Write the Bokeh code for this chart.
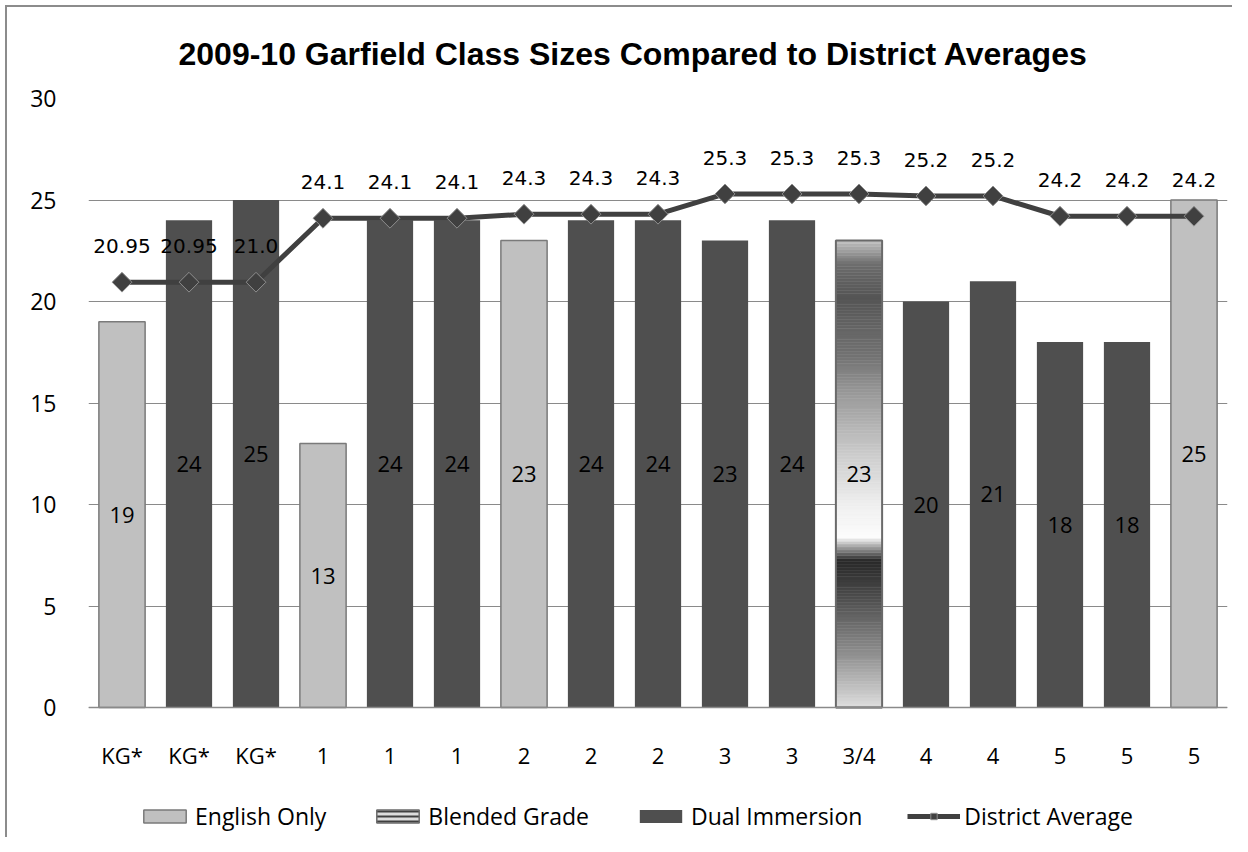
import numpy as np
from bokeh.plotting import figure
from bokeh.models import (ColumnDataSource, FixedTicker, Legend, LegendItem, Range1d)
from bokeh.core.properties import value
from bokeh.embed import file_html
from bokeh.resources import INLINE

# ---------------- data ----------------
categories = ["KG*", "KG*", "KG*", "1", "1", "1", "2", "2", "2", "3", "3", "3/4",
              "4", "4", "5", "5", "5"]
class_sizes = [19, 24, 25, 13, 24, 24, 23, 24, 24, 23, 24, 23, 20, 21, 18, 18, 25]
program = ["English Only", "Dual Immersion", "Dual Immersion", "English Only",
           "Dual Immersion", "Dual Immersion", "English Only", "Dual Immersion",
           "Dual Immersion", "Dual Immersion", "Dual Immersion", "Blended Grade",
           "Dual Immersion", "Dual Immersion", "Dual Immersion", "Dual Immersion",
           "English Only"]
district_avg = [20.95, 20.95, 20.95, 24.1, 24.1, 24.1, 24.3, 24.3, 24.3,
                25.3, 25.3, 25.3, 25.2, 25.2, 24.2, 24.2, 24.2]
district_avg_labels = ["20.95", "20.95", "21.0", "24.1", "24.1", "24.1", "24.3", "24.3",
                       "24.3", "25.3", "25.3", "25.3", "25.2", "25.2", "24.2", "24.2", "24.2"]
y_ticks = [0, 5, 10, 15, 20, 25, 30]
y_max = 30

# ---------------- styles / layout ----------------
COL_ENG = "#c0c0c0"
COL_DUAL = "#4f4f4f"
COL_LINE = "#404040"
GRID = "#8a8a8a"
BAR_W = 0.69
FONT = "Open Sans"
PLOT_W = 1139          # px of the value area
PLOT_H = 609           # px from 0 to 30
EXTRA_H = 128          # px below the zero line (axis labels + legend)
# gradient stops for the blended bar (fraction from top, grey level)
grad_t = [0.0, 0.05, 0.12, 0.25, 0.32, 0.46, 0.57, 0.635, 0.685, 0.75, 0.88, 1.0]
grad_v = [195, 110, 85, 115, 150, 205, 240, 252, 40, 70, 140, 222]

xs = list(range(1, len(categories) + 1))
y_start = -EXTRA_H * y_max / PLOT_H

p = figure(output_backend="svg", toolbar_location=None,
           frame_width=PLOT_W, frame_height=PLOT_H + EXTRA_H,
           x_range=Range1d(0.5, len(categories) + 0.5), y_range=Range1d(y_start, y_max),
           min_border_left=81, min_border_right=5, min_border_top=90,
           min_border_bottom=2)
p.styles = {"border-left": "2px solid #8c8c8c", "border-top": "2px solid #8c8c8c",
            "margin-left": "5px", "margin-top": "5px"}
p.background_fill_color = "white"
p.border_fill_color = "white"
p.outline_line_color = None

p.title.text = "2009-10 Garfield Class Sizes Compared to District Averages"
p.title.align = "left"
p.title.offset = 90
p.title.text_font = "Liberation Sans"
p.title.text_font_size = "32px"
p.title.text_font_style = "bold"
p.title.text_color = "#000000"
p.title.standoff = 53

# axes
p.yaxis.ticker = FixedTicker(ticks=y_ticks)
p.yaxis.axis_line_color = None
p.yaxis.major_tick_line_color = None
p.yaxis.minor_tick_line_color = None
p.yaxis.major_label_text_font = FONT
p.yaxis.major_label_text_font_size = "23px"
p.yaxis.major_label_text_color = "#000000"
p.yaxis.major_label_standoff = 26

p.xaxis.fixed_location = 0
p.xaxis.ticker = FixedTicker(ticks=xs)
p.xaxis.major_label_overrides = {x: c for x, c in zip(xs, categories)}
p.xaxis.axis_line_color = GRID
p.xaxis.axis_line_width = 1.5
p.xaxis.major_tick_line_color = None
p.xaxis.minor_tick_line_color = None
p.xaxis.major_label_text_font = FONT
p.xaxis.major_label_text_font_size = "22px"
p.xaxis.major_label_text_color = "#000000"
p.xaxis.major_label_standoff = 26

p.xgrid.grid_line_color = None
p.ygrid.grid_line_color = GRID
p.ygrid.grid_line_width = 1.2

# ---------------- bars ----------------
def subset(name):
    idx = [i for i, g in enumerate(program) if g == name]
    return ColumnDataSource(dict(x=[xs[i] for i in idx], top=[class_sizes[i] for i in idx]))

src_eng = subset("English Only")
src_dual = subset("Dual Immersion")
src_blend = subset("Blended Grade")

r_eng = p.vbar(x="x", top="top", bottom=0, width=BAR_W, source=src_eng,
               fill_color=COL_ENG, line_color="#7a7a7a", line_width=1.5)
r_dual = p.vbar(x="x", top="top", bottom=0, width=BAR_W, source=src_dual,
                fill_color=COL_DUAL, line_color=None)

# blended bar: vertical gradient made of thin slices
n = 160
seg = dict(x=[], bottom=[], top=[], color=[])
for bx, bt in zip(src_blend.data["x"], src_blend.data["top"]):
    for i in range(n):
        b = bt * i / n
        t = bt * (i + 1) / n
        frac_from_top = 1 - (i + 0.5) / n
        g = int(round(np.interp(frac_from_top, grad_t, grad_v)))
        seg["x"].append(bx)
        seg["bottom"].append(b)
        seg["top"].append(t)
        seg["color"].append("#%02x%02x%02x" % (g, g, g))
p.vbar(x="x", top="top", bottom="bottom", width=BAR_W, source=ColumnDataSource(seg),
       fill_color="color", line_color="color", line_width=0.5)
p.vbar(x="x", top="top", bottom=0, width=BAR_W, source=src_blend,
       fill_color=None, line_color="#6a6a6a", line_width=2)

# legend proxy for blended: a zero-height bar at the blended bar's base
r_blend_leg = p.vbar(x="x", top=0, bottom=0, width=BAR_W, source=src_blend,
                     fill_color="#dcdcdc", line_color="#6a6a6a", line_width=1.5,
                     line_alpha=1.0,
                     hatch_pattern="horizontal_line", hatch_color="#404040",
                     hatch_scale=5, hatch_weight=2)

# bar labels in the middle
bar_lbl = ColumnDataSource(dict(x=xs, y=[v / 2 for v in class_sizes],
                                t=[str(v) for v in class_sizes]))
p.text(x="x", y="y", text="t", source=bar_lbl, text_align="center",
       text_baseline="middle", text_font=value(FONT), text_font_size="22px",
       text_color="#000000")

# ---------------- district average line ----------------
line_src = ColumnDataSource(dict(x=xs, y=district_avg, t=district_avg_labels))
r_line = p.line(x="x", y="y", source=line_src, line_color=COL_LINE, line_width=5)
r_mark = p.scatter(x="x", y="y", source=line_src, marker="square", angle=np.pi / 4,
                   size=14, fill_color=COL_LINE, line_color="#8f8f8f", line_width=1)
p.text(x="x", y="y", text="t", source=line_src, text_align="center",
       text_baseline="middle", y_offset=-36, text_font=value("DejaVu Sans"),
       text_font_size="20px", text_color="#000000")

legend = Legend(items=[
    LegendItem(label="English Only", renderers=[r_eng]),
    LegendItem(label="Blended Grade", renderers=[r_blend_leg]),
    LegendItem(label="Dual Immersion", renderers=[r_dual]),
    LegendItem(label="District Average", renderers=[r_line, r_mark]),
], orientation="horizontal", location=(50, 3))
legend.label_text_font = FONT
legend.label_text_font_size = "23px"
legend.label_text_color = "#000000"
legend.glyph_width = 53
legend.glyph_height = 16
legend.label_standoff = 4
legend.spacing = 45
legend.padding = 0
legend.margin = 0
legend.border_line_color = None
legend.background_fill_color = None
legend.background_fill_alpha = 0
p.add_layout(legend)

open("out.html", "w").write(file_html(p, INLINE))
